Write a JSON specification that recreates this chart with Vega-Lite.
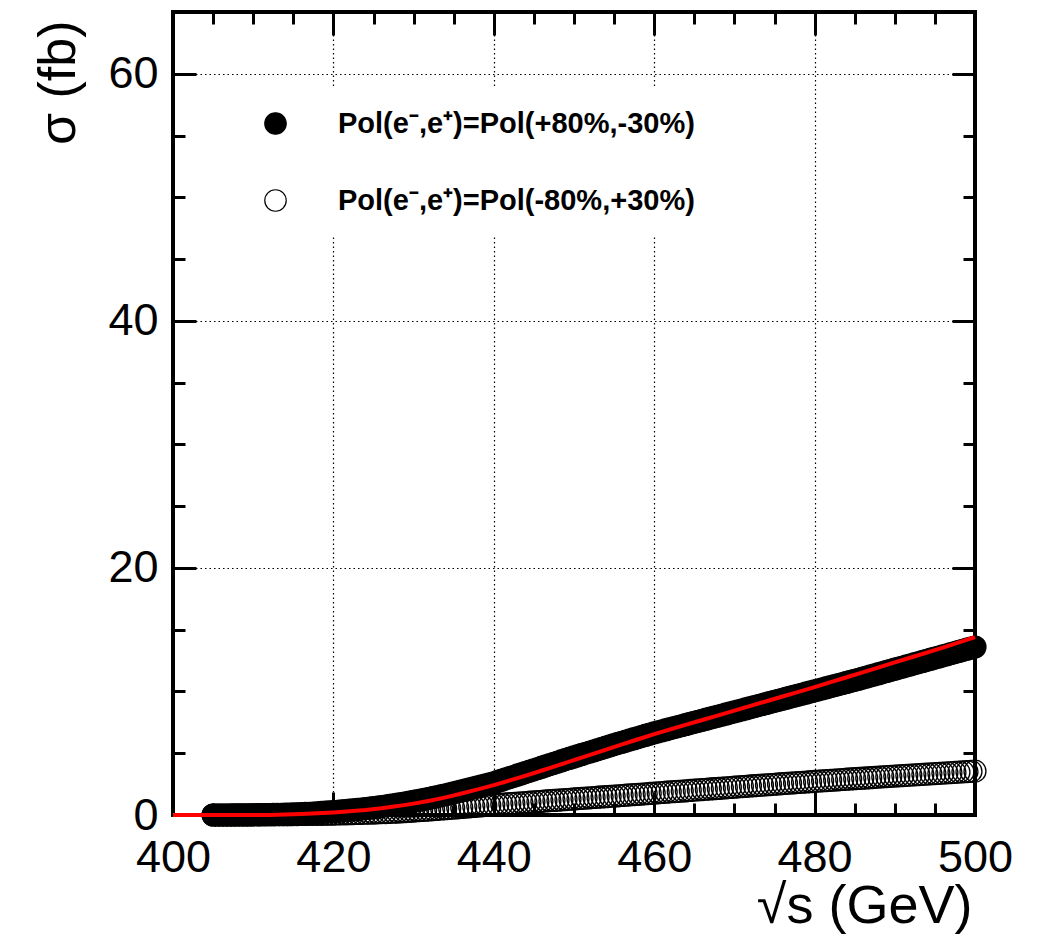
{
  "$schema": "https://vega.github.io/schema/vega-lite/v6.json",
  "width": 802,
  "height": 803,
  "autosize": {"type": "none"},
  "padding": {"left": 173, "top": 12, "right": 62, "bottom": 127},
  "background": "white",
  "config": {"view": {"stroke": "black", "strokeWidth": 4}, "font": "Liberation Sans"},
  "datasets": {
    "scan": [
      {"x":405,"a":0,"b":0},{"x":405.5,"a":0,"b":0},{"x":406,"a":0,"b":0},{"x":406.5,"a":0,"b":0},{"x":407,"a":0,"b":0},{"x":407.5,"a":0.005,"b":0},{"x":408,"a":0.01,"b":0},{"x":408.5,"a":0.01,"b":0},{"x":409,"a":0.01,"b":0},{"x":409.5,"a":0.015,"b":0},
      {"x":410,"a":0.02,"b":0.005},{"x":410.5,"a":0.025,"b":0.005},{"x":411,"a":0.03,"b":0.01},{"x":411.5,"a":0.035,"b":0.01},{"x":412,"a":0.04,"b":0.01},{"x":412.5,"a":0.045,"b":0.015},{"x":413,"a":0.05,"b":0.02},{"x":413.5,"a":0.06,"b":0.02},{"x":414,"a":0.07,"b":0.02},{"x":414.5,"a":0.08,"b":0.025},
      {"x":415,"a":0.09,"b":0.03},{"x":415.5,"a":0.1,"b":0.035},{"x":416,"a":0.11,"b":0.04},{"x":416.5,"a":0.125,"b":0.045},{"x":417,"a":0.14,"b":0.05},{"x":417.5,"a":0.16,"b":0.05},{"x":418,"a":0.18,"b":0.05},{"x":418.5,"a":0.205,"b":0.055},{"x":419,"a":0.23,"b":0.06},{"x":419.5,"a":0.255,"b":0.065},
      {"x":420,"a":0.28,"b":0.07},{"x":420.5,"a":0.305,"b":0.08},{"x":421,"a":0.33,"b":0.09},{"x":421.5,"a":0.36,"b":0.095},{"x":422,"a":0.39,"b":0.1},{"x":422.5,"a":0.42,"b":0.11},{"x":423,"a":0.45,"b":0.12},{"x":423.5,"a":0.485,"b":0.13},{"x":424,"a":0.52,"b":0.14},{"x":424.5,"a":0.56,"b":0.15},
      {"x":425,"a":0.6,"b":0.16},{"x":425.5,"a":0.64,"b":0.175},{"x":426,"a":0.68,"b":0.19},{"x":426.5,"a":0.73,"b":0.2},{"x":427,"a":0.78,"b":0.21},{"x":427.5,"a":0.83,"b":0.225},{"x":428,"a":0.88,"b":0.24},{"x":428.5,"a":0.93,"b":0.26},{"x":429,"a":0.98,"b":0.28},{"x":429.5,"a":1.04,"b":0.3},
      {"x":430,"a":1.1,"b":0.32},{"x":430.5,"a":1.16,"b":0.345},{"x":431,"a":1.22,"b":0.37},{"x":431.5,"a":1.285,"b":0.39},{"x":432,"a":1.35,"b":0.41},{"x":432.5,"a":1.42,"b":0.435},{"x":433,"a":1.49,"b":0.46},{"x":433.5,"a":1.565,"b":0.485},{"x":434,"a":1.64,"b":0.51},{"x":434.5,"a":1.72,"b":0.535},
      {"x":435,"a":1.8,"b":0.56},{"x":435.5,"a":1.875,"b":0.585},{"x":436,"a":1.95,"b":0.61},{"x":436.5,"a":2.03,"b":0.635},{"x":437,"a":2.11,"b":0.66},{"x":437.5,"a":2.19,"b":0.69},{"x":438,"a":2.27,"b":0.72},{"x":438.5,"a":2.355,"b":0.745},{"x":439,"a":2.44,"b":0.77},{"x":439.5,"a":2.525,"b":0.795},
      {"x":440,"a":2.61,"b":0.82},{"x":440.5,"a":2.715,"b":0.845},{"x":441,"a":2.82,"b":0.87},{"x":441.5,"a":2.925,"b":0.895},{"x":442,"a":3.03,"b":0.92},{"x":442.5,"a":3.135,"b":0.94},{"x":443,"a":3.24,"b":0.96},{"x":443.5,"a":3.345,"b":0.985},{"x":444,"a":3.45,"b":1.01},{"x":444.5,"a":3.555,"b":1.035},
      {"x":445,"a":3.66,"b":1.06},{"x":445.5,"a":3.765,"b":1.085},{"x":446,"a":3.87,"b":1.11},{"x":446.5,"a":3.975,"b":1.135},{"x":447,"a":4.08,"b":1.16},{"x":447.5,"a":4.185,"b":1.18},{"x":448,"a":4.29,"b":1.2},{"x":448.5,"a":4.395,"b":1.225},{"x":449,"a":4.5,"b":1.25},{"x":449.5,"a":4.6,"b":1.275},
      {"x":450,"a":4.7,"b":1.3},{"x":450.5,"a":4.8,"b":1.325},{"x":451,"a":4.9,"b":1.35},{"x":451.5,"a":5.0,"b":1.37},{"x":452,"a":5.1,"b":1.39},{"x":452.5,"a":5.2,"b":1.415},{"x":453,"a":5.3,"b":1.44},{"x":453.5,"a":5.4,"b":1.46},{"x":454,"a":5.5,"b":1.48},{"x":454.5,"a":5.6,"b":1.505},
      {"x":455,"a":5.7,"b":1.53},{"x":455.5,"a":5.795,"b":1.555},{"x":456,"a":5.89,"b":1.58},{"x":456.5,"a":5.985,"b":1.605},{"x":457,"a":6.08,"b":1.63},{"x":457.5,"a":6.175,"b":1.65},{"x":458,"a":6.27,"b":1.67},{"x":458.5,"a":6.365,"b":1.695},{"x":459,"a":6.46,"b":1.72},{"x":459.5,"a":6.555,"b":1.745},
      {"x":460,"a":6.65,"b":1.77},{"x":460.5,"a":6.735,"b":1.795},{"x":461,"a":6.82,"b":1.82},{"x":461.5,"a":6.905,"b":1.845},{"x":462,"a":6.99,"b":1.87},{"x":462.5,"a":7.075,"b":1.89},{"x":463,"a":7.16,"b":1.91},{"x":463.5,"a":7.245,"b":1.935},{"x":464,"a":7.33,"b":1.96},{"x":464.5,"a":7.415,"b":1.985},
      {"x":465,"a":7.5,"b":2.01},{"x":465.5,"a":7.585,"b":2.035},{"x":466,"a":7.67,"b":2.06},{"x":466.5,"a":7.755,"b":2.085},{"x":467,"a":7.84,"b":2.11},{"x":467.5,"a":7.925,"b":2.13},{"x":468,"a":8.01,"b":2.15},{"x":468.5,"a":8.095,"b":2.175},{"x":469,"a":8.18,"b":2.2},{"x":469.5,"a":8.265,"b":2.225},
      {"x":470,"a":8.35,"b":2.25},{"x":470.5,"a":8.435,"b":2.275},{"x":471,"a":8.52,"b":2.3},{"x":471.5,"a":8.605,"b":2.325},{"x":472,"a":8.69,"b":2.35},{"x":472.5,"a":8.775,"b":2.37},{"x":473,"a":8.86,"b":2.39},{"x":473.5,"a":8.945,"b":2.415},{"x":474,"a":9.03,"b":2.44},{"x":474.5,"a":9.115,"b":2.465},
      {"x":475,"a":9.2,"b":2.49},{"x":475.5,"a":9.285,"b":2.515},{"x":476,"a":9.37,"b":2.54},{"x":476.5,"a":9.455,"b":2.56},{"x":477,"a":9.54,"b":2.58},{"x":477.5,"a":9.625,"b":2.605},{"x":478,"a":9.71,"b":2.63},{"x":478.5,"a":9.795,"b":2.65},{"x":479,"a":9.88,"b":2.67},{"x":479.5,"a":9.965,"b":2.695},
      {"x":480,"a":10.05,"b":2.72},{"x":480.5,"a":10.135,"b":2.74},{"x":481,"a":10.22,"b":2.76},{"x":481.5,"a":10.305,"b":2.785},{"x":482,"a":10.39,"b":2.81},{"x":482.5,"a":10.475,"b":2.83},{"x":483,"a":10.56,"b":2.85},{"x":483.5,"a":10.645,"b":2.875},{"x":484,"a":10.73,"b":2.9},{"x":484.5,"a":10.815,"b":2.92},
      {"x":485,"a":10.9,"b":2.94},{"x":485.5,"a":10.99,"b":2.96},{"x":486,"a":11.08,"b":2.98},{"x":486.5,"a":11.17,"b":3.0},{"x":487,"a":11.26,"b":3.02},{"x":487.5,"a":11.35,"b":3.045},{"x":488,"a":11.44,"b":3.07},{"x":488.5,"a":11.53,"b":3.09},{"x":489,"a":11.62,"b":3.11},{"x":489.5,"a":11.71,"b":3.13},
      {"x":490,"a":11.8,"b":3.15},{"x":490.5,"a":11.89,"b":3.17},{"x":491,"a":11.98,"b":3.19},{"x":491.5,"a":12.07,"b":3.21},{"x":492,"a":12.16,"b":3.23},{"x":492.5,"a":12.25,"b":3.25},{"x":493,"a":12.34,"b":3.27},{"x":493.5,"a":12.43,"b":3.29},{"x":494,"a":12.52,"b":3.31},{"x":494.5,"a":12.61,"b":3.33},
      {"x":495,"a":12.7,"b":3.35},{"x":495.5,"a":12.79,"b":3.37},{"x":496,"a":12.88,"b":3.39},{"x":496.5,"a":12.97,"b":3.41},{"x":497,"a":13.06,"b":3.43},{"x":497.5,"a":13.15,"b":3.45},{"x":498,"a":13.24,"b":3.47},{"x":498.5,"a":13.33,"b":3.49},{"x":499,"a":13.42,"b":3.51},{"x":499.5,"a":13.51,"b":3.53},
      {"x":500,"a":13.6,"b":3.55}
    ],
    "fit": [
      {"x":400,"f":0},{"x":405,"f":0},{"x":410,"f":0},{"x":412,"f":0.01},{"x":414,"f":0.04},{"x":416,"f":0.08},{"x":418,"f":0.14},{"x":420,"f":0.21},{"x":422,"f":0.3},{"x":424,"f":0.41},
      {"x":426,"f":0.55},{"x":428,"f":0.72},{"x":430,"f":0.92},{"x":432,"f":1.16},{"x":434,"f":1.43},{"x":436,"f":1.74},{"x":438,"f":2.07},{"x":440,"f":2.42},{"x":442,"f":2.8},{"x":444,"f":3.19},
      {"x":446,"f":3.6},{"x":448,"f":4.02},{"x":450,"f":4.45},{"x":452,"f":4.87},{"x":454,"f":5.29},{"x":456,"f":5.71},{"x":458,"f":6.13},{"x":460,"f":6.55},{"x":462,"f":6.93},{"x":464,"f":7.31},
      {"x":466,"f":7.69},{"x":468,"f":8.07},{"x":470,"f":8.45},{"x":472,"f":8.83},{"x":474,"f":9.21},{"x":476,"f":9.59},{"x":478,"f":9.97},{"x":480,"f":10.35},{"x":482,"f":10.75},{"x":484,"f":11.15},
      {"x":486,"f":11.55},{"x":488,"f":11.95},{"x":490,"f":12.35},{"x":492,"f":12.75},{"x":494,"f":13.15},{"x":496,"f":13.55},{"x":498,"f":13.97},{"x":500,"f":14.4}
    ]
  },
  "layer": [
    {
      "data": {"name": "scan"},
      "transform": [{"fold": ["a", "b"], "as": ["s", "sigma"]}],
      "mark": {"type": "point", "shape": "circle", "filled": true, "stroke": "black", "strokeWidth": 1.3, "size": 480, "opacity": 1},
      "encoding": {
        "x": {
          "field": "x", "type": "quantitative",
          "scale": {"domain": [400, 500], "nice": false, "zero": false},
          "axis": {
            "orient": "bottom",
            "values": [400,405,410,415,420,425,430,435,440,445,450,455,460,465,470,475,480,485,490,495,500],
            "domain": false,
            "ticks": true,
            "tickSize": {"condition": {"test": "datum.value % 20 === 0", "value": -23}, "value": -12},
            "tickWidth": 3,
            "tickColor": "black",
            "labelExpr": "datum.value % 20 === 0 ? datum.label : ''",
            "labelFont": "Liberation Sans",
            "labelFontSize": 45,
            "labelColor": "black",
            "labelPadding": 43,
            "labelFlush": false,
            "labelOverlap": false,
            "grid": true,
            "gridColor": "black",
            "gridDash": [1.5, 3],
            "gridWidth": 1.2,
            "gridOpacity": {"condition": {"test": "datum.value % 20 === 0 && datum.value > 400 && datum.value < 500", "value": 1}, "value": 0},
            "title": "√s (GeV)",
            "titleFont": "Liberation Sans",
            "titleFontSize": 54,
            "titleFontWeight": "normal",
            "titleColor": "black",
            "titleAlign": "right",
            "titleAnchor": "end",
            "titleBaseline": "alphabetic",
            "titleX": 799,
            "titleY": 107
          }
        },
        "y": {
          "field": "sigma", "type": "quantitative",
          "scale": {"domain": [0, 65], "nice": false},
          "axis": {
            "orient": "left",
            "values": [0,5,10,15,20,25,30,35,40,45,50,55,60,65],
            "domain": false,
            "tickSize": {"condition": {"test": "datum.value % 20 === 0", "value": -23}, "value": -12},
            "tickWidth": 3,
            "tickColor": "black",
            "labelExpr": "datum.value % 20 === 0 ? datum.label : ''",
            "labelFont": "Liberation Sans",
            "labelFontSize": 45,
            "labelColor": "black",
            "labelPadding": 38,
            "labelFlush": false,
            "labelOverlap": false,
            "grid": true,
            "gridColor": "black",
            "gridDash": [1.5, 3],
            "gridWidth": 1.2,
            "gridOpacity": {"condition": {"test": "datum.value % 20 === 0 && datum.value > 0", "value": 1}, "value": 0},
            "title": "σ (fb)",
            "titleFont": "Liberation Sans",
            "titleFontSize": 52,
            "titleFontWeight": "normal",
            "titleColor": "black",
            "titleAngle": 270,
            "titleAlign": "right",
            "titleBaseline": "middle",
            "titleX": -115,
            "titleY": 8
          }
        },
        "fill": {
          "field": "s", "type": "nominal",
          "scale": {"domain": ["a", "b"], "range": ["black", "transparent"]},
          "legend": {
            "orient": "none",
            "legendX": 68,
            "legendY": 77,
            "title": null,
            "fillColor": "white",
            "padding": 20,
            "symbolType": "circle",
            "symbolSize": 460,
            "symbolStrokeColor": "black",
            "symbolStrokeWidth": 1.2,
            "labelFont": "Liberation Sans",
            "labelFontWeight": "bold",
            "labelFontSize": 29,
            "labelColor": "black",
            "labelOffset": 48,
            "labelLimit": 0,
            "rowPadding": 47,
            "labelExpr": "datum.label === 'a' ? 'Pol(e⁻,e⁺)=Pol(+80%,-30%)' : 'Pol(e⁻,e⁺)=Pol(-80%,+30%)'"
          }
        }
      }
    },
    {
      "data": {"name": "fit"},
      "mark": {"type": "line", "color": "#ff0000", "strokeWidth": 4},
      "encoding": {
        "x": {
          "field": "x", "type": "quantitative",
          "scale": {"domain": [400, 500], "nice": false, "zero": false},
          "axis": {
            "orient": "top",
            "values": [400,405,410,415,420,425,430,435,440,445,450,455,460,465,470,475,480,485,490,495,500],
            "domain": false,
            "labels": false,
            "grid": false,
            "title": null,
            "tickSize": {"condition": {"test": "datum.value % 20 === 0", "value": -23}, "value": -12},
            "tickWidth": 3,
            "tickColor": "black"
          }
        },
        "y": {
          "field": "f", "type": "quantitative",
          "scale": {"domain": [0, 65], "nice": false},
          "axis": {
            "orient": "right",
            "values": [0,5,10,15,20,25,30,35,40,45,50,55,60,65],
            "domain": false,
            "labels": false,
            "grid": false,
            "title": null,
            "tickSize": {"condition": {"test": "datum.value % 20 === 0", "value": -23}, "value": -12},
            "tickWidth": 3,
            "tickColor": "black"
          }
        }
      }
    }
  ],
  "resolve": {"axis": {"x": "independent", "y": "independent"}}
}
